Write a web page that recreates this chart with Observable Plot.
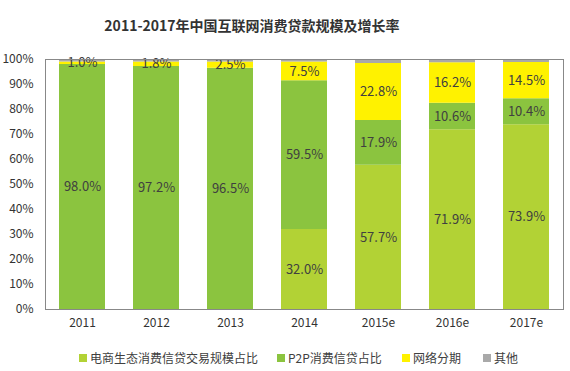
<!DOCTYPE html>
<html>
<head>
<meta charset="utf-8">
<script src="https://cdn.jsdelivr.net/npm/d3@7"></script>
<script src="https://cdn.jsdelivr.net/npm/@observablehq/plot@0.6"></script>
<style>
  body { margin: 0; background: #fff; font-family: "Noto Sans CJK SC", "Noto Sans", sans-serif; }
  #wrap { width: 570px; height: 371px; position: relative; overflow: hidden; }
  #title { height: 40px; width: 504px; text-align: center; font-weight: bold; font-size: 14px; line-height: 50px; color: #333; }
  #legend { height: 31px; position: relative; font-size: 12px; color: #404040; }
  .li { position: absolute; top: 9px; display: flex; align-items: center; white-space: nowrap; }
  .sw { width: 8px; height: 8px; margin-right: 3px; }
</style>
</head>
<body>
<div id="wrap">
  <div id="title">2011-2017年中国互联网消费贷款规模及增长率</div>
  <div id="chart"></div>
  <div id="legend"></div>
</div>
<script>
const years = ["2011", "2012", "2013", "2014", "2015e", "2016e", "2017e"];
const seriesNames = ["电商生态消费信贷交易规模占比", "P2P消费信贷占比", "网络分期", "其他"];
const colors = ["#b2d235", "#8bc43f", "#fff200", "#a9a9a9"];
const ecommerce = [0, 0, 0, 32.0, 57.7, 71.9, 73.9];
const p2p = [98.0, 97.2, 96.5, 59.5, 17.9, 10.6, 10.4];
const installment = [1.0, 1.8, 2.5, 7.5, 22.8, 16.2, 14.5];
const other = [1.0, 1.0, 1.0, 1.0, 1.6, 1.3, 1.2];
const yTicks = [0, 10, 20, 30, 40, 50, 60, 70, 80, 90, 100];

const seriesValues = [ecommerce, p2p, installment, other];
const data = [];
years.forEach((yr, i) => {
  seriesNames.forEach((s, j) => {
    const v = seriesValues[j][i];
    data.push({year: yr, series: s, value: v, label: (j === 3 || v === 0) ? "" : v.toFixed(1) + "%"});
  });
});

const chart = Plot.plot({
  width: 570,
  height: 300,
  marginTop: 19,
  marginBottom: 31,
  marginLeft: 45,
  marginRight: 7,
  style: {fontFamily: '"Noto Sans CJK SC", "Noto Sans", sans-serif', fontSize: "12px", color: "#333", background: "#fff"},
  x: {domain: years, paddingInner: 0.38, paddingOuter: 0.19, label: null, tickSize: 0, tickPadding: 9},
  y: {domain: [0, 100], ticks: yTicks, tickFormat: d => d + "%", label: null, tickSize: 0, tickPadding: 12},
  color: {domain: seriesNames, range: colors},
  marks: [
    Plot.barY(data, {x: "year", y: "value", fill: "series", order: seriesNames}),
    Plot.text(data, Plot.stackY({x: "year", y: "value", z: "series", order: seriesNames, text: "label", fill: "#404040", fontSize: 13})),
    Plot.frame({stroke: "#888", strokeWidth: 1})
  ]
});
document.getElementById("chart").appendChild(chart);

const legendPos = [79, 277, 402, 483];
const lg = document.getElementById("legend");
seriesNames.forEach((s, i) => {
  const d = document.createElement("div");
  d.className = "li";
  d.style.left = legendPos[i] + "px";
  d.innerHTML = `<span class="sw" style="background:${colors[i]}"></span><span>${s}</span>`;
  lg.appendChild(d);
});
</script>
</body>
</html>
